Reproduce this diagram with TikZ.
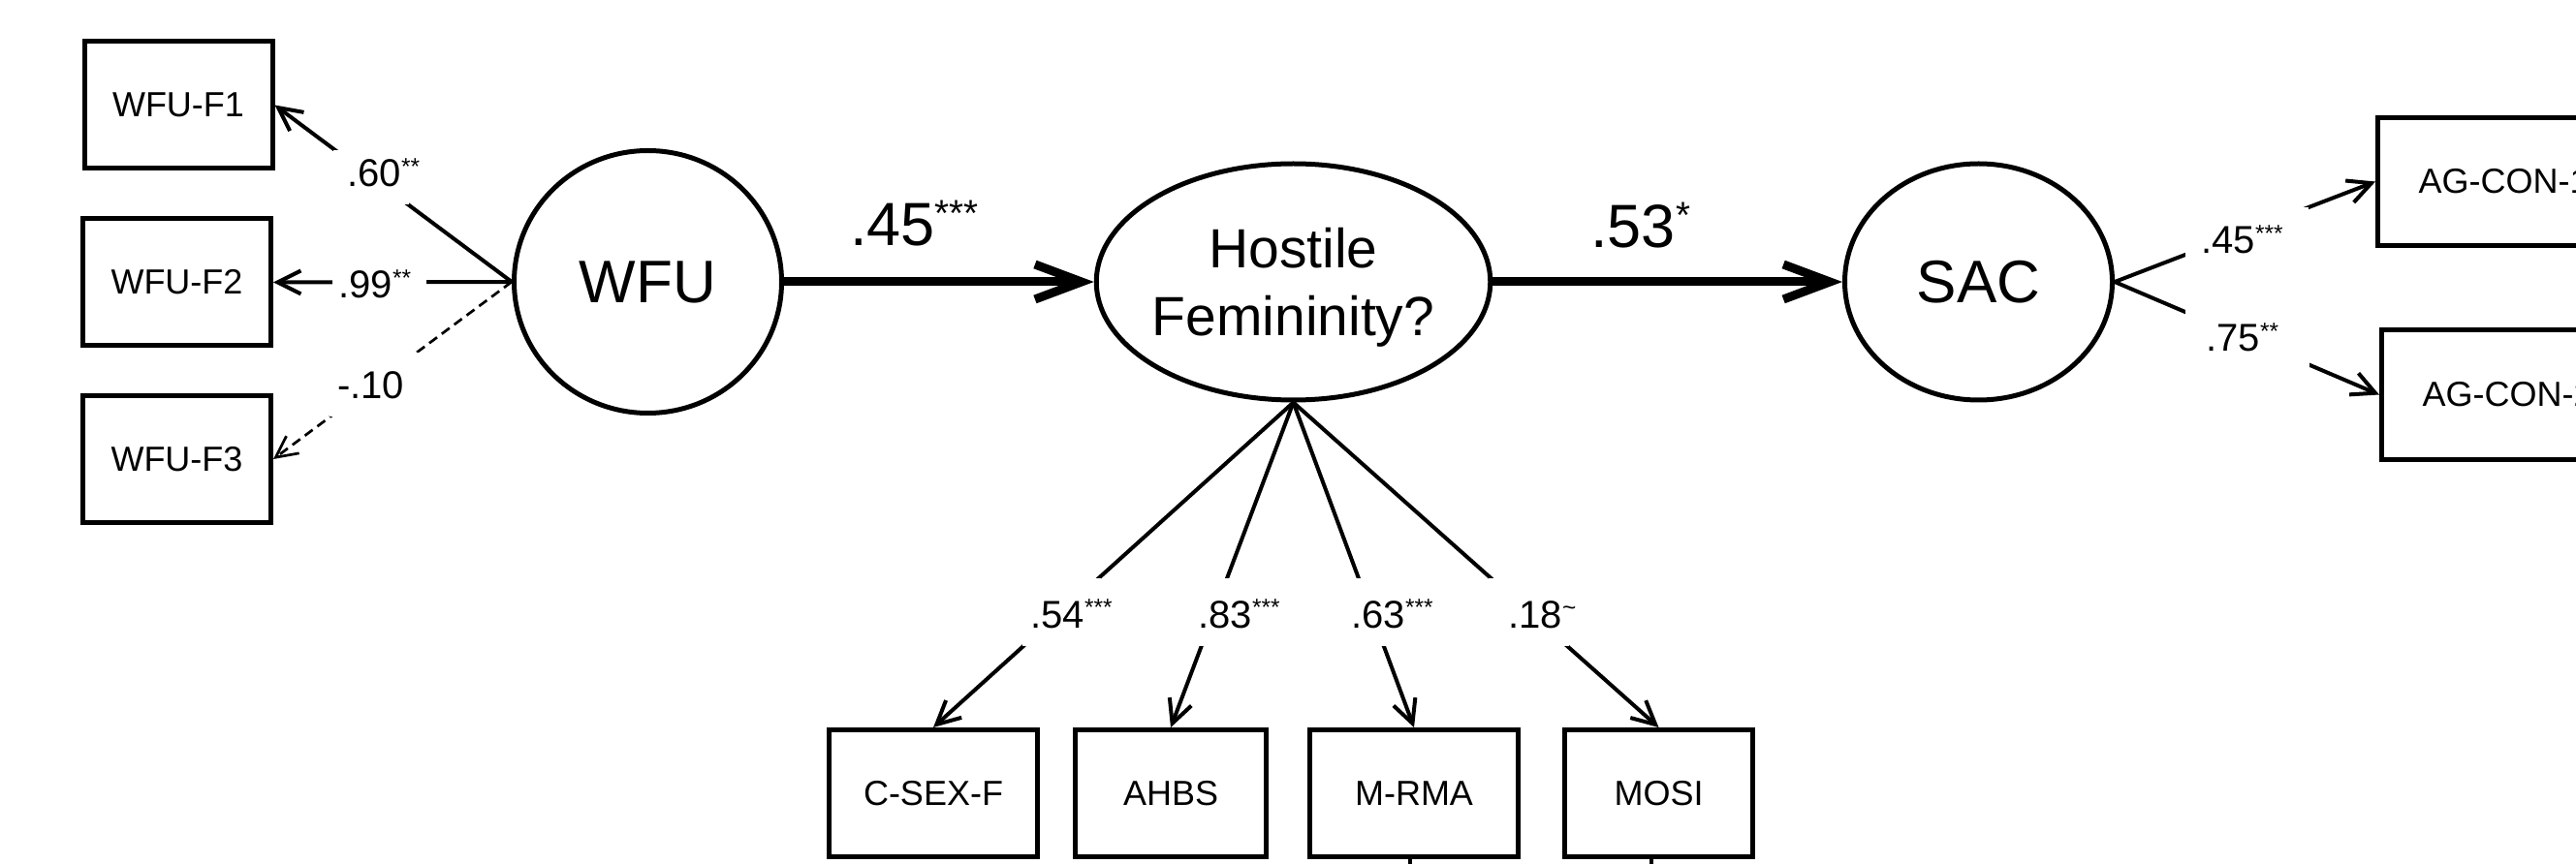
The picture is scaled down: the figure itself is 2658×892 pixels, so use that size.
\documentclass[tikz,border=0pt]{standalone}
\usepackage{fontspec}
\setmainfont{Liberation Sans}
\usepackage{graphicx}
\usetikzlibrary{arrows.meta,shapes.geometric}
\newcommand\sups[1]{\raisebox{0.32em}{\scalebox{0.61}{#1}}}
\begin{document}
\begin{tikzpicture}[x=0.5pt,y=-0.5pt,
  every node/.style={inner sep=0pt},
  obs/.style={draw, rectangle, line width=2.5pt, minimum width=97pt, minimum height=65.5pt,
    font=\fontsize{18}{21.6}\selectfont},
  lat/.style={draw, ellipse, line width=2.5pt},
  conn/.style={line width=2pt, -{Straight Barb[length=12pt,width=12pt]}},
  dconn/.style={line width=1.35pt, dash pattern=on 5pt off 3pt, -{Straight Barb[length=11pt,width=11pt]}},
  mainarr/.style={line width=4.5pt, -{Straight Barb[length=24pt,width=18pt]}},
  stub/.style={line width=2pt},
  coef/.style={fill=white, align=left, font=\fontsize{20}{24}\selectfont},
  coefb/.style={coef, text height=25.5pt, text depth=9.5pt},
  bigcoef/.style={anchor=base west, font=\fontsize{31.5}{36}\selectfont}
]
\useasboundingbox (0,0) rectangle (2658,892);
\clip (0,0) rectangle (2658,892);

% latent variables
\node[lat, minimum width=138pt, minimum height=135.5pt, font=\fontsize{31}{36}\selectfont] (wfu) at (668.5,291) {WFU};
\node[lat, minimum width=202pt, minimum height=122pt, inner xsep=-1pt, align=center, text depth=0pt,
      font=\fontsize{28.5}{35}\selectfont] (hf) at (1334.5,291) {Hostile\\Femininity?};
\node[lat, minimum width=138pt, minimum height=122pt, font=\fontsize{31}{36}\selectfont] (sac) at (2041.5,291) {SAC};

% indicators
\node[obs] (f1) at (184,108.5) {WFU-F1};
\node[obs] (f2) at (182.5,291.5) {WFU-F2};
\node[obs] (f3) at (182.5,474) {WFU-F3};
\node[obs, minimum width=107.5pt] (cs) at (963,819) {C-SEX-F};
\node[obs, minimum width=98.5pt] (ah) at (1208,819) {AHBS};
\node[obs, minimum width=107.5pt] (mr) at (1459,819) {M-RMA};
\node[obs, minimum width=97pt] (mo) at (1711.5,819) {MOSI};
\node[obs, minimum width=130pt, minimum height=66pt] (ag1) at (2583.5,187.5) {AG-CON-1};
\node[obs, minimum width=130pt, minimum height=67pt] (ag2) at (2587.5,407.5) {AG-CON-2};

% structural paths
\draw[mainarr] (wfu.east) -- (hf.west);
\draw[mainarr] (hf.east) -- (sac.west);
\node[bigcoef] (c45) at (877,254) {.45\sups{***}};
\node[bigcoef] (c53) at (1641,256) {.53\sups{*}};

% loadings WFU
\draw[conn] (wfu.west) -- (f1.east);
\draw[conn] (wfu.west) -- (f2.east);
\draw[dconn] (wfu.west) -- (f3.east);
\node[coef, text width=39pt, text height=19pt, text depth=9pt] (l1) at (383,183) {\hspace*{7.2pt}.60\sups{**}};
\node[coef, text width=48.5pt, text height=16.5pt, text depth=1pt] (l2) at (391.5,292.5) {\hspace*{3.2pt}.99\sups{**}};
\node[coef, text width=46.5pt, text height=24pt, text depth=9pt] (l3) at (386.5,397) {\hspace*{4.15pt}-.10};

% loadings HF
\draw[conn] (hf.south) -- (cs.north);
\draw[conn] (hf.south) -- (ah.north);
\draw[conn] (hf.south) -- (mr.north);
\draw[conn] (hf.south) -- (mo.north);
\node[coefb, text width=40.5pt] (b1) at (1095.5,632) {\hspace*{4.2pt}.54\sups{***}};
\node[coefb, text width=18pt] (b2) at (1254,632) {\hspace*{0.2pt}.83\sups{***}};
\node[coefb, text width=16.5pt] (b3) at (1414.5,632) {\hspace*{-1.8pt}.63\sups{***}};
\node[coefb, text width=41.5pt] (b4) at (1577.5,632) {\hspace*{10.2pt}.18\sups{\textasciitilde}};

% loadings SAC
\draw[conn] (sac.east) -- (ag1.west);
\draw[conn] (sac.east) -- (ag2.west);
\node[coef, text width=63.5pt, text height=24pt, text depth=2pt] (r1) at (2318.5,240) {\hspace*{8.2pt}.45\sups{***}};
\node[coef, text width=64pt, text height=22pt, text depth=8pt] (r2) at (2319,349) {\hspace*{10.7pt}.75\sups{**}};

% stubs of paths leaving the picture at the bottom
\coordinate (mre) at (1455,910);
\coordinate (moe) at (1704,910);
\draw[stub] (mre |- mr.south) -- (mre);
\draw[stub] (moe |- mo.south) -- (moe);
\end{tikzpicture}
\end{document}
